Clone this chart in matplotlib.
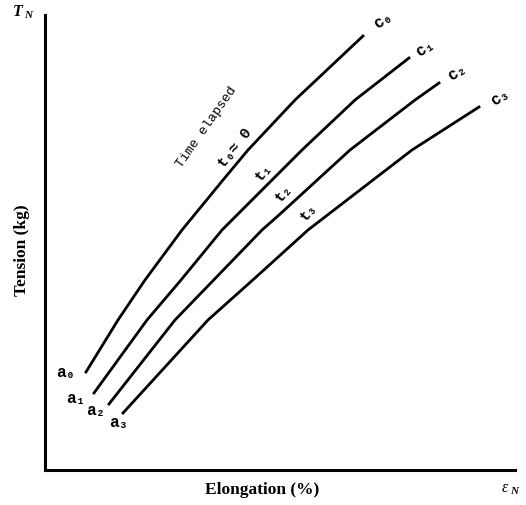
import matplotlib
matplotlib.use("Agg")
import matplotlib.pyplot as plt

# Curves (elongation, tension), arbitrary units
c0_x = [41, 73, 100, 137, 178, 203, 250, 318]
c0_y = [98, 150, 190, 240, 290, 320, 370, 434]
c1_x = [49, 102, 136, 177, 227, 257, 310, 364]
c1_y = [77, 150, 190, 240, 290, 320, 370, 412]
c2_x = [64, 130, 217, 234, 305, 370, 394]
c2_y = [66, 150, 240, 255, 320, 370, 387]
c3_x = [78, 163, 210, 263, 367, 434]
c3_y = [57, 150, 192, 240, 320, 363]

curves = [(c0_x, c0_y), (c1_x, c1_y), (c2_x, c2_y), (c3_x, c3_y)]

start_labels = ["a\u2080", "a\u2081", "a\u2082", "a\u2083"]
start_pos = [(21, 97), (31, 72), (51, 60), (74, 48)]
end_labels = ["c\u2080", "c\u2081", "c\u2082", "c\u2083"]
end_pos = [(338, 450), (380, 422), (412, 398), (455, 373)]
time_labels = ["t\u2080\u2248 0", "t\u2081", "t\u2082", "t\u2083"]
time_pos = [(190, 322), (218, 298), (238, 277), (263, 258)]

mono = ["Liberation Mono", "DejaVu Sans Mono"]
serif = ["Liberation Serif", "DejaVu Serif"]

fig = plt.figure(figsize=(5.26, 5.05), dpi=100)
ax = fig.add_axes([45 / 526, 35 / 505, 470 / 526, 455 / 505])

for xs, ys in curves:
    ax.plot(xs, ys, color="black", lw=2.0, solid_joinstyle="round")

for lab, (x, y) in zip(start_labels, start_pos):
    ax.text(x, y, lab, family=mono, fontsize=11.5, fontweight="bold",
            ha="center", va="center")
for lab, (x, y) in zip(end_labels, end_pos):
    ax.text(x, y, lab, family=mono, fontsize=11.5, fontweight="bold",
            ha="center", va="center", rotation=35)
for lab, (x, y) in zip(time_labels, time_pos):
    ax.text(x, y, lab, family=mono, fontsize=11, fontweight="bold",
            ha="center", va="center", rotation=52)
ax.text(162, 343, "Time elapsed", family=mono, fontsize=9.5,
        ha="center", va="center", rotation=55)

ax.set_xlim(0, 470)
ax.set_ylim(0, 455)
for side in ["top", "right"]:
    ax.spines[side].set_visible(False)
for side in ["left", "bottom"]:
    ax.spines[side].set_linewidth(2.2)
ax.set_xticks([])
ax.set_yticks([])

fig.text(262 / 526, 1 - 490 / 505, "Elongation (%)", family=serif,
         fontsize=12.5, fontweight="bold", ha="center", va="center")
fig.text(22 / 526, 1 - 250 / 505, "Tension (kg)", family=serif,
         fontsize=12.5, fontweight="bold", ha="center", va="center",
         rotation=90)

# axis symbols
fig.text(18 / 526, 1 - 12 / 505, "T", family=serif, fontsize=11.5,
         fontweight="bold", style="italic", ha="center", va="center")
fig.text(28 / 526, 1 - 16 / 505, "N", family=serif, fontsize=8,
         fontweight="bold", style="italic", ha="center", va="center")
fig.text(505 / 526, 1 - 488 / 505, "\u03b5", family=serif, fontsize=11.5,
         style="italic", ha="center", va="center")
fig.text(514 / 526, 1 - 492 / 505, "N", family=serif, fontsize=8,
         fontweight="bold", style="italic", ha="center", va="center")

fig.savefig("out.png", dpi=100)
